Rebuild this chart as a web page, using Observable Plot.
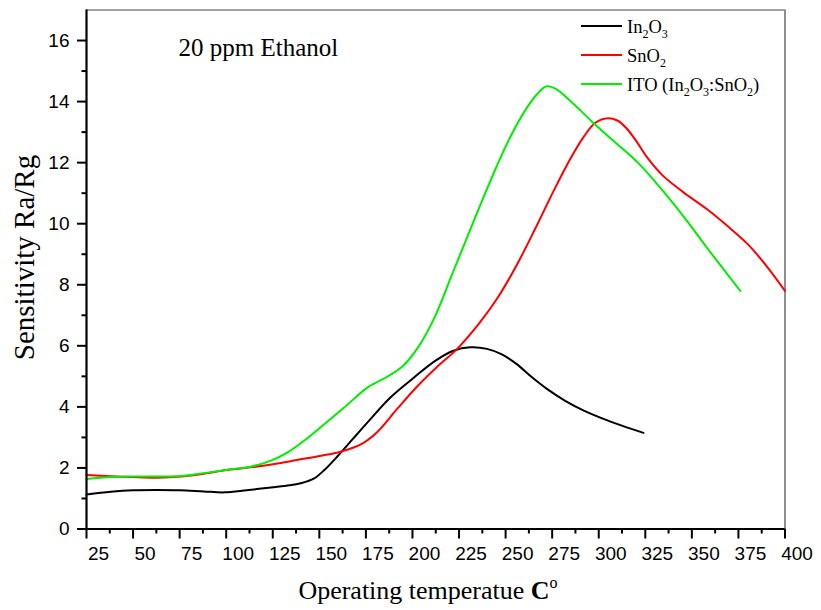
<!DOCTYPE html>
<html><head><meta charset="utf-8">
<script src="https://cdn.jsdelivr.net/npm/d3@7"></script>
<script src="https://cdn.jsdelivr.net/npm/@observablehq/plot@0.6"></script>
<style>body{margin:0;background:#fff}</style>
</head><body><div id="chart"></div>
<script>
// ---- data ----
const xTicks = [25,50,75,100,125,150,175,200,225,250,275,300,325,350,375,400];
const xMinor = [37.5,62.5,87.5,112.5,137.5,162.5,187.5,212.5,237.5,262.5,287.5,312.5,337.5,362.5,387.5];
const yTicks = [0,2,4,6,8,10,12,14,16];
const yMinor = [1,3,5,7,9,11,13,15];

const in2o3 = [[25,1.13],[38,1.22],[50,1.27],[63,1.28],[75,1.27],[88,1.23],[99,1.2],[111,1.27],[124,1.36],[134,1.43],[140,1.5],[147,1.65],[153,1.95],[160,2.4],[168,2.95],[176,3.5],[188,4.3],[201,4.97],[212,5.5],[222,5.84],[231,5.95],[240,5.9],[248,5.72],[256,5.4],[264,4.98],[272,4.6],[282,4.2],[292,3.88],[305,3.55],[315,3.33],[324,3.15]];
const sno2 = [[25,1.77],[38,1.73],[50,1.7],[63,1.68],[76,1.72],[88,1.81],[101,1.94],[113,2.02],[126,2.13],[138,2.26],[151,2.4],[162,2.54],[172,2.76],[181,3.17],[192,3.95],[203,4.7],[213,5.3],[224,5.9],[236,6.75],[246,7.6],[256,8.65],[266,9.85],[276,11.1],[285,12.15],[292,12.85],[298,13.3],[304,13.45],[310,13.38],[315,13.12],[320,12.72],[326,12.17],[334,11.6],[345,11.05],[358,10.48],[369,9.93],[380,9.33],[390,8.62],[400,7.8]];
const ito = [[25,1.64],[38,1.7],[50,1.72],[63,1.72],[76,1.74],[88,1.83],[101,1.94],[113,2.04],[124,2.24],[133,2.51],[142,2.9],[152,3.4],[163,3.96],[176,4.64],[186,4.97],[195,5.35],[203,5.95],[212,6.95],[221,8.3],[229,9.5],[237,10.7],[245,11.85],[253,12.9],[262,13.85],[267,14.25],[272,14.5],[277,14.42],[283,14.12],[290,13.72],[297,13.31],[308,12.71],[321,12.0],[333,11.18],[346,10.2],[358,9.22],[369,8.35],[376,7.8]];

const seriesColors = ["#000000","#ff0000","#00ee00"];
const legendParts = [
  [["In",0],["2",1],["O",0],["3",1]],
  [["SnO",0],["2",1]],
  [["ITO (In",0],["2",1],["O",0],["3",1],[":SnO",0],["2",1],[")",0]]
];
const titleText = "20 ppm Ethanol";
const yTitle = "Sensitivity Ra/Rg";
const xTitle = "Operating temperatue ";

const allSeries = [in2o3, sno2, ito];
const serif = "'Liberation Serif', 'Times New Roman', serif";

const plot = Plot.plot({
  width: 821, height: 610,
  marginLeft: 86, marginRight: 36.5, marginTop: 9.5, marginBottom: 81.5,
  style: {fontFamily: "'Liberation Sans', Arial, sans-serif", fontSize: "19px", color: "#000", background: "#fff", overflow: "visible"},
  x: {domain: [25, 400]},
  y: {domain: [0, 17]},
  marks: [
    Plot.ruleY([17], {stroke: "#444", strokeWidth: 1.2}),
    Plot.ruleX([400], {stroke: "#444", strokeWidth: 1.2}),
    ...allSeries.map((s, i) => Plot.line(s, {x: d => d[0], y: d => d[1], stroke: seriesColors[i], strokeWidth: 2, curve: "catmull-rom"})),
    Plot.axisX(xTicks, {tickSize: 10, tickFormat: () => "", label: null, strokeWidth: 2}),
    Plot.axisX(xMinor, {tickSize: 5, tickFormat: () => "", label: null, strokeWidth: 2}),
    Plot.axisX(xTicks, {tickSize: 0, tickPadding: 17, dx: 12, label: null, fontSize: 19, tickFormat: d => String(d)}),
    Plot.axisY(yTicks, {tickSize: 9, tickPadding: 8, label: null, fontSize: 19, strokeWidth: 2, tickFormat: d => String(d)}),
    Plot.axisY(yMinor, {tickSize: 4.5, tickFormat: () => "", label: null, strokeWidth: 2}),
    Plot.ruleX([25], {stroke: "#000", strokeWidth: 2.2}),
    Plot.ruleY([0], {stroke: "#000", strokeWidth: 2.2}),
    Plot.text([titleText], {text: d => d, frameAnchor: "top-left", dx: 92, dy: 45.5, textAnchor: "start", lineAnchor: "bottom", fontSize: 25, fontFamily: serif, fill: "#000"}),
    Plot.text([yTitle], {text: d => d, frameAnchor: "left", textAnchor: "middle", dx: -62, dy: -12, rotate: -90, fontSize: 29, fontFamily: serif, fill: "#000"})
  ]
});
document.getElementById("chart").appendChild(plot);

const svg = d3.select(plot);
// x-axis title with superscript
const xt = svg.append("text").attr("x", 428).attr("y", 599).attr("text-anchor", "middle")
  .attr("font-family", serif).attr("font-size", 26).attr("fill", "#000");
xt.append("tspan").text(xTitle);
xt.append("tspan").attr("font-weight", "bold").text("C");
xt.append("tspan").attr("font-size", 16).attr("dy", -11).text("o");

// legend
const lg = svg.append("g");
legendParts.forEach((parts, i) => {
  const base = 33 + i * 29;
  lg.append("line").attr("x1", 581).attr("x2", 622).attr("y1", base - 7).attr("y2", base - 7)
    .attr("stroke", seriesColors[i]).attr("stroke-width", 2);
  const t = lg.append("text").attr("x", 627).attr("y", base).attr("font-family", serif)
    .attr("text-anchor", "start").attr("font-size", 18.5).attr("fill", "#000");
  let shifted = 0;
  parts.forEach(([str, sub]) => {
    const target = sub ? 5 : 0;
    const ts = t.append("tspan").text(str).attr("dy", target - shifted);
    if (sub) ts.attr("font-size", 12);
    shifted = target;
  });
});
</script>
</body></html>
